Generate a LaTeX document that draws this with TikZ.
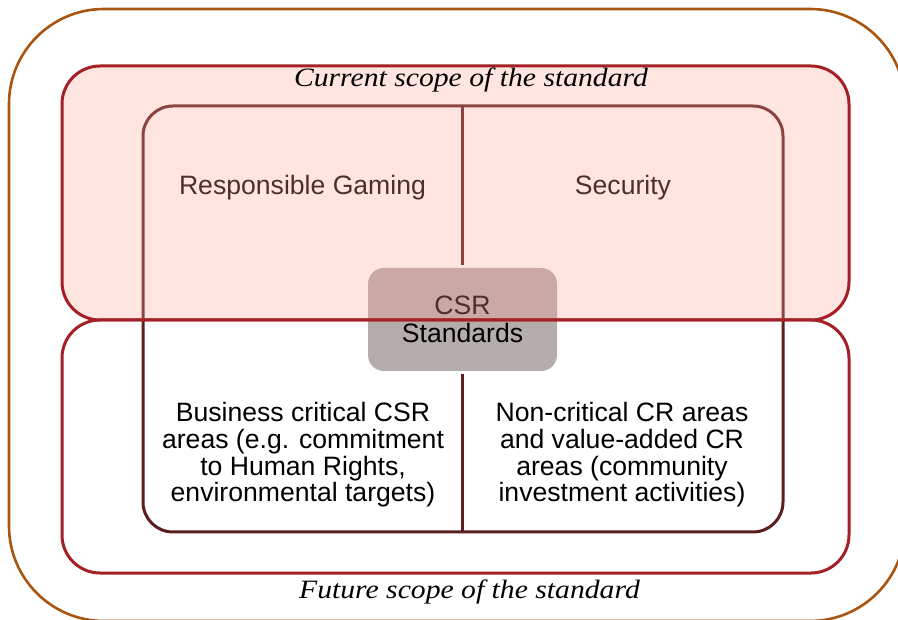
\documentclass[tikz,border=0pt]{standalone}
\usepackage{fontspec}
\setsansfont{Liberation Sans}
\newfontfamily\scopefont{Liberation Serif}[FakeStretch=1.12]
\definecolor{outerc}{RGB}{170,85,15}
\definecolor{redc}{RGB}{165,32,38}
\definecolor{innerc}{RGB}{92,31,31}
\definecolor{boxc}{RGB}{181,172,172}
\definecolor{tintc}{RGB}{255,165,148}
\begin{document}
\begin{tikzpicture}[x=1pt,y=-1pt,
  frame/.style={inner sep=0pt, outer sep=0pt, anchor=north west},
  areatext/.style={font=\sffamily\fontsize{26.6}{26.7}\selectfont, align=center, anchor=base, inner sep=0pt},
  scopetext/.style={font=\scopefont\itshape\fontsize{26.5}{28}\selectfont, anchor=base, inner sep=0pt}
]
\useasboundingbox (0,0) rectangle (898,620);
\clip (0,0) rectangle (898,620);

% outermost frame
\node[frame, draw=outerc, line width=2.6pt, rounded corners=95pt,
      minimum width=896pt, minimum height=612pt] (outer) at (9,9) {};

% the four CSR areas
\node[frame, draw=innerc, line width=3pt, rounded corners=30pt,
      minimum width=640pt, minimum height=426pt] (areas) at (143,106) {};

% CSR standards box in the middle
\node[frame, fill=boxc, rounded corners=16pt, minimum width=189pt, minimum height=103pt,
      font=\sffamily\fontsize{26.6}{28}\selectfont, align=center] (csr) at (368,268) {CSR\\Standards};

% divider between the areas, stopping short of the box
\coordinate (gapT) at (462,265);
\coordinate (gapB) at (462,374);
\draw[innerc, line width=3pt] (areas.north -| gapT) -- (gapT);
\draw[innerc, line width=3pt] (gapB) -- (areas.south -| gapB);

% area labels (multi-line labels sit on the baseline of their last line)
\node[areatext] (rg) at (302.5,195) {Responsible Gaming};
\node[areatext] (sec) at (623,195) {Security};
\node[areatext] (bc) at (303,502) {Business critical CSR\\areas (e.g. commitment\\to Human Rights,\\environmental targets)};
\node[areatext] (nc) at (622,502) {Non-critical CR areas\\and value-added CR\\areas (community\\investment activities)};

% scope frames
\node[frame, draw=redc, line width=3pt, rounded corners=38pt,
      minimum width=787pt, minimum height=253pt] (future) at (62,320) {};
\node[frame, draw=redc, line width=3pt, rounded corners=38pt, fill=tintc, fill opacity=0.29,
      minimum width=787pt, minimum height=254pt] (current) at (62,66) {};

\node[scopetext] (curlab) at (471,87) {Current scope of the standard};
\node[scopetext] (futlab) at (469.5,598) {Future scope of the standard};
\end{tikzpicture}
\end{document}
